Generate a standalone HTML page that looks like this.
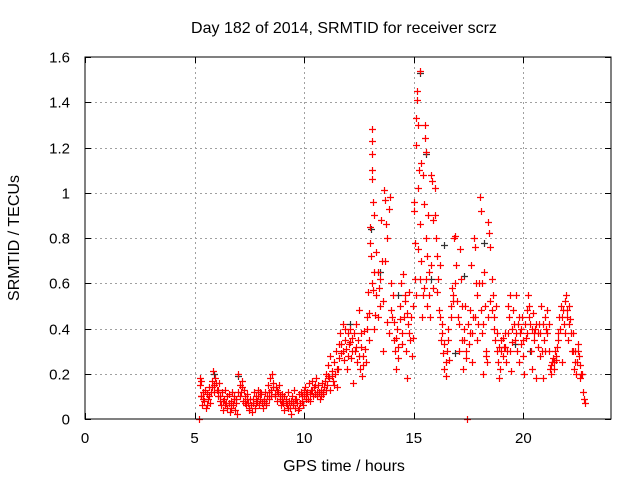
<!DOCTYPE html>
<html><head><meta charset="utf-8"><style>
body{margin:0;background:#fff}
svg{display:block;font-family:"Liberation Sans",sans-serif}
</style></head><body>
<svg id="chart" width="640" height="480" viewBox="0 0 640 480">
<rect width="640" height="480" fill="#fff"/>
<text x="344" y="33" text-anchor="middle" font-size="16" fill="#000">Day 182 of 2014, SRMTID for receiver scrz</text>
<text x="344" y="471" text-anchor="middle" font-size="16" fill="#000">GPS time / hours</text>
<text transform="translate(19,238) rotate(-90)" text-anchor="middle" font-size="16" fill="#000">SRMTID / TECUs</text>
<g id="grid"></g>
<g id="black"></g>
<g id="red"></g>
<rect x="85" y="57" width="526" height="362" fill="none" stroke="#000" stroke-width="1"/>
<g id="ticks"></g>
</svg>
<script>
const xTicks=[0,5,10,15,20];
const yTicks=[0,0.2,0.4,0.6,0.8,1,1.2,1.4,1.6];
const yTickLabels=["0","0.2","0.4","0.6","0.8","1","1.2","1.4","1.6"];
const redTimes=[5.2,5.25,5.25,5.3,5.3,5.35,5.4,5.45,5.5,5.55,5.6,5.65,5.7,5.75,5.8,5.85,5.9,5.95,6.0,6.05,6.1,6.15,6.2,6.25,6.3,6.35,6.4,6.45,6.5,6.55,6.6,6.65,6.7,6.75,6.8,6.85,6.9,6.95,7.0,7.05,7.1,7.15,7.2,7.25,7.3,7.35,7.4,7.45,7.5,7.55,7.6,7.65,7.7,7.75,7.8,7.85,7.9,7.95,8.0,8.05,8.1,8.15,8.2,8.25,8.3,8.35,8.4,8.45,8.5,8.55,8.6,8.65,8.7,8.75,8.8,8.85,8.9,8.95,9.0,9.05,9.1,9.15,9.2,9.25,9.3,9.35,9.4,9.45,9.5,9.55,9.6,9.65,9.7,9.75,9.8,9.85,9.9,9.95,10.0,10.05,10.1,10.15,10.2,10.25,10.3,10.35,10.4,10.45,10.5,10.55,10.6,10.65,10.7,10.75,10.8,10.85,10.9,10.95,11.0,11.05,11.1,11.15,11.2,11.25,11.3,11.35,11.4,11.45,11.5,11.55,11.6,11.65,11.7,11.75,11.8,11.85,11.9,11.95,12.0,12.05,12.1,12.15,12.2,12.25,12.3,12.35,12.4,12.45,12.5,12.55,12.6,12.65,12.7,12.75,12.8,12.85,12.9,12.95,13.0,13.0,13.05,13.1,13.1,13.1,13.1,13.1,13.12,13.15,13.2,13.2,13.25,13.3,13.35,13.4,13.45,13.5,13.55,13.6,13.65,13.7,13.75,13.8,13.85,13.9,13.95,14.0,14.05,14.1,14.15,14.2,14.25,14.3,14.35,14.4,14.45,14.5,14.55,14.6,14.65,14.7,14.75,14.8,14.85,14.9,14.95,15.0,15.0,15.05,15.05,15.1,15.1,15.15,15.15,15.2,15.2,15.25,15.3,15.3,15.35,15.35,15.4,15.4,15.45,15.5,15.5,15.55,15.55,15.6,15.6,15.65,15.7,15.75,15.8,15.85,15.9,15.95,16.0,16.05,16.1,16.15,16.2,16.25,16.3,16.35,16.4,16.45,16.5,16.55,16.6,16.7,16.75,16.8,16.85,16.9,16.95,17.0,17.05,17.1,17.15,17.2,17.25,17.3,17.35,17.4,17.45,17.5,17.55,17.6,17.65,17.7,17.75,17.8,17.85,17.9,17.95,18.0,18.05,18.1,18.1,18.15,18.2,18.25,18.3,18.35,18.4,18.45,18.5,18.55,18.6,18.65,18.7,18.75,18.8,18.85,18.9,18.95,19.0,19.05,19.1,19.15,19.2,19.25,19.3,19.35,19.4,19.45,19.5,19.55,19.6,19.65,19.7,19.75,19.8,19.85,19.9,19.95,20.0,20.05,20.1,20.15,20.2,20.25,20.3,20.35,20.4,20.45,20.5,20.55,20.6,20.65,20.7,20.75,20.8,20.85,20.9,20.95,21.0,21.05,21.1,21.15,21.2,21.25,21.3,21.35,21.4,21.45,21.5,21.55,21.6,21.65,21.7,21.75,21.8,21.85,21.9,21.95,22.0,22.05,22.1,22.15,22.2,22.25,22.3,22.35,22.4,22.45,22.5,22.55,22.6,22.65,22.7,22.75,22.8,
5.28,5.38,5.48,5.58,5.68,5.78,5.88,5.98,6.08,6.18,6.28,6.38,6.48,6.58,6.68,6.78,6.88,6.98,7.08,7.18,7.28,7.38,7.48,7.58,7.68,7.78,7.88,7.98,8.08,8.18,8.28,8.38,8.48,8.58,8.68,8.78,8.88,8.98,9.08,9.18,9.28,9.38,9.48,9.58,9.68,9.78,9.88,9.98,10.08,10.18,10.28,10.38,10.48,10.58,10.68,10.78,10.88,10.98,11.08,11.18,11.28,11.38,11.48,11.58,11.68,11.78,11.88,11.98,12.08,12.18,12.28,12.38,12.48,12.58,12.68,12.78,12.88,12.98,13.08,13.18,13.28,13.38,13.48,13.58,13.68,13.78,13.88,13.98,14.08,14.18,14.28,14.38,14.48,14.58,14.68,14.78,14.88,14.98,15.08,15.18,15.28,15.38,15.48,15.58,15.68,15.78,15.88,15.98,16.08,16.18,16.28,16.38,16.48,16.58,16.68,16.78,16.88,16.98,17.08,17.18,17.28,17.38,17.48,17.58,17.68,17.78,17.88,17.98,18.08,18.18,18.28,18.38,18.48,18.58,18.68,18.78,18.88,18.98,19.08,19.18,19.28,19.38,19.48,19.58,19.68,19.78,19.88,19.98,20.08,20.18,20.28,20.38,20.48,20.58,20.68,20.78,20.88,20.98,21.08,21.18,21.28,21.38,21.48,21.58,21.68,21.78,21.88,21.98,22.08,22.18,22.28,22.38,22.48,22.58,22.68];
const redValues=[0.0,0.18,0.15,0.17,0.1,0.06,0.12,0.08,0.05,0.11,0.09,0.14,0.07,0.12,0.17,0.21,0.15,0.18,0.13,0.1,0.16,0.08,0.06,0.12,0.04,0.09,0.13,0.07,0.05,0.11,0.03,0.08,0.12,0.06,0.1,0.04,0.09,0.02,0.2,0.15,0.12,0.17,0.08,0.13,0.1,0.06,0.11,0.07,0.04,0.09,0.03,0.07,0.12,0.05,0.1,0.08,0.13,0.06,0.09,0.11,0.05,0.08,0.12,0.07,0.1,0.15,0.09,0.18,0.13,0.2,0.16,0.11,0.14,0.08,0.12,0.15,0.09,0.06,0.11,0.07,0.04,0.09,0.06,0.12,0.08,0.05,0.02,0.1,0.07,0.13,0.05,0.09,0.04,0.11,0.07,0.12,0.08,0.06,0.1,0.14,0.09,0.12,0.16,0.08,0.13,0.17,0.1,0.14,0.11,0.18,0.12,0.15,0.09,0.13,0.16,0.11,0.14,0.17,0.2,0.15,0.24,0.18,0.28,0.21,0.17,0.25,0.2,0.3,0.14,0.22,0.33,0.38,0.29,0.42,0.26,0.35,0.31,0.22,0.38,0.33,0.4,0.27,0.36,0.16,0.3,0.42,0.25,0.35,0.48,0.22,0.32,0.19,0.28,0.39,0.25,0.45,0.56,0.35,0.85,0.78,0.72,1.28,1.23,1.17,1.1,1.06,0.96,0.57,0.9,0.4,0.46,0.74,0.65,0.58,0.5,0.88,0.7,0.3,1.01,0.97,0.86,0.8,0.93,0.98,0.6,0.45,0.55,0.35,0.3,0.22,0.4,0.27,0.5,0.6,0.33,0.64,0.45,0.55,0.3,0.18,0.42,0.56,0.35,0.28,0.5,0.96,0.92,0.78,0.62,1.33,1.21,1.45,1.41,1.3,1.02,1.1,1.54,0.86,1.13,0.7,1.08,0.55,0.95,1.3,1.24,1.18,0.8,0.72,0.5,0.9,0.65,0.45,1.08,1.05,0.88,1.02,0.8,0.72,0.62,0.48,0.68,0.35,0.42,0.29,0.22,0.19,0.3,0.4,0.26,0.5,0.58,0.55,0.8,0.81,0.68,0.45,0.3,0.75,0.62,0.35,0.22,0.4,0.5,0.27,0.0,0.33,0.38,0.68,0.25,0.45,0.8,0.76,0.6,0.55,0.42,0.98,0.92,0.6,0.38,0.2,0.65,0.5,0.28,0.25,0.87,0.82,0.76,0.62,0.55,0.45,0.35,0.5,0.3,0.25,0.18,0.22,0.35,0.28,0.32,0.38,0.25,0.3,0.5,0.45,0.55,0.21,0.4,0.48,0.35,0.55,0.3,0.42,0.25,0.38,0.33,0.45,0.28,0.2,0.36,0.48,0.55,0.5,0.42,0.3,0.22,0.47,0.35,0.4,0.18,0.38,0.42,0.28,0.5,0.3,0.18,0.35,0.45,0.4,0.48,0.3,0.22,0.2,0.25,0.27,0.22,0.3,0.26,0.32,0.38,0.45,0.5,0.25,0.48,0.42,0.52,0.55,0.45,0.35,0.5,0.44,0.3,0.38,0.22,0.3,0.2,0.25,0.33,0.28,0.18,0.2,0.12,0.09,0.07,
0.1,0.09,0.13,0.06,0.1,0.14,0.12,0.16,0.13,0.1,0.08,0.06,0.1,0.07,0.05,0.09,0.07,0.12,0.1,0.14,0.07,0.09,0.05,0.06,0.09,0.07,0.1,0.12,0.07,0.09,0.06,0.12,0.1,0.14,0.1,0.13,0.1,0.08,0.1,0.07,0.05,0.08,0.06,0.09,0.07,0.05,0.1,0.13,0.11,0.09,0.11,0.13,0.15,0.1,0.12,0.1,0.12,0.13,0.19,0.13,0.19,0.15,0.22,0.27,0.33,0.3,0.4,0.28,0.34,0.3,0.38,0.32,0.28,0.38,0.24,0.31,0.4,0.47,0.6,0.65,0.55,0.45,0.62,0.52,0.7,0.43,0.38,0.48,0.43,0.36,0.32,0.44,0.38,0.52,0.47,0.38,0.45,0.36,0.55,0.75,0.62,0.45,0.58,0.62,0.55,0.68,0.58,0.9,0.56,0.45,0.38,0.33,0.25,0.35,0.45,0.52,0.6,0.52,0.42,0.5,0.35,0.3,0.42,0.48,0.38,0.45,0.35,0.6,0.48,0.42,0.3,0.45,0.52,0.48,0.4,0.38,0.32,0.3,0.36,0.32,0.38,0.3,0.34,0.42,0.38,0.45,0.4,0.35,0.42,0.38,0.45,0.4,0.38,0.42,0.32,0.38,0.42,0.3,0.38,0.42,0.24,0.25,0.28,0.35,0.4,0.45,0.38,0.48,0.42,0.38,0.3,0.25,0.3,0.24,0.2];
const blackTimes=[15.3,15.55,13.05,13.45,16.9,17.3,5.9,7.0,12.1,14.3,15.8,18.2,19.6,20.3,16.4];
const blackValues=[1.53,1.17,0.84,0.65,0.29,0.63,0.2,0.19,0.42,0.55,0.62,0.78,0.33,0.3,0.77];

const NS="http://www.w3.org/2000/svg";
const L=85,R=611,T=57,B=419,XMAX=24,YMAX=1.6;
function xs(v){return L+(R-L)*v/XMAX;}
function ys(v){return B-(B-T)*v/YMAX;}
const grid=document.getElementById('grid'),ticks=document.getElementById('ticks');
function line(g,x1,y1,x2,y2,st,dash,name){
  const l=document.createElementNS(NS,'line');
  l.setAttribute('x1',x1);l.setAttribute('y1',y1);l.setAttribute('x2',x2);l.setAttribute('y2',y2);
  l.setAttribute('stroke',st);l.setAttribute('stroke-width',1);
  if(dash)l.setAttribute('stroke-dasharray',dash);
  
  
  g.appendChild(l);
}
function label(x,y,txt,anchor,name){
  const t=document.createElementNS(NS,'text');
  t.setAttribute('x',x);t.setAttribute('y',y);t.setAttribute('text-anchor',anchor);
  t.setAttribute('font-size','15');t.textContent=txt;
  
  
  ticks.appendChild(t);
}
xTicks.forEach(v=>{
  const x=Math.round(xs(v))+0.5;
  if(v>0)line(grid,x,T,x,B,'#a0a0a0','2,3','x-gridline');
  line(ticks,x,B,x,B-6,'#000',null,'x-tick');
  line(ticks,x,T,x,T+6,'#000',null,'x-tick');
  label(xs(v),443,String(v),'middle','x-tick-label');
});
yTicks.forEach((v,i)=>{
  const y=Math.round(ys(v))+0.5;
  if(v>0&&v<YMAX)line(grid,L,y,R,y,'#a0a0a0','2,3','y-gridline');
  line(ticks,L,y,L+6,y,'#000',null,'y-tick');
  line(ticks,R,y,R-6,y,'#000',null,'y-tick');
  label(70,y+5,yTickLabels[i],'end','y-tick-label');
});
function plus(g,t,v,col,name){
  const x=Math.round(xs(t))+0.5,y=Math.round(ys(v))+0.5;
  const p=document.createElementNS(NS,'path');
  p.setAttribute('d',`M${x-3.5} ${y}H${x+3.5}M${x} ${y-3.5}V${y+3.5}`);
  p.setAttribute('stroke',col);p.setAttribute('stroke-width',1.2);
  
  
  g.appendChild(p);
}
const bg=document.getElementById('black'),rg=document.getElementById('red');
blackTimes.forEach((t,i)=>plus(bg,t,blackValues[i],'#333','black-point'));
redTimes.forEach((t,i)=>plus(rg,t,redValues[i],'#ff0000','red-point'));
</script>
</body></html>
